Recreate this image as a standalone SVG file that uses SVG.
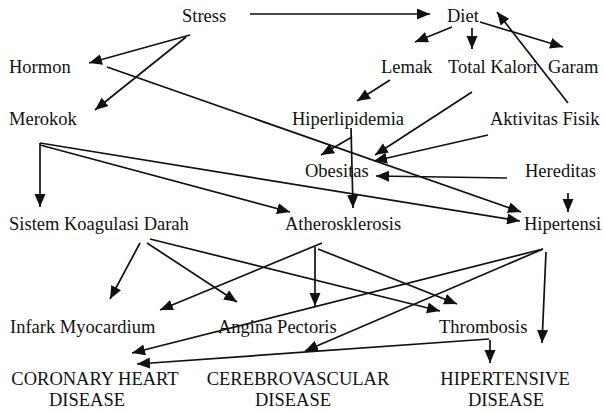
<svg xmlns="http://www.w3.org/2000/svg" width="604" height="411" viewBox="0 0 604 411">
  <style>
    text { font-family: "Liberation Serif", "Times New Roman", serif; font-size: 18.5px; fill: #111; }
    .edge { stroke: #111; stroke-width: 1.7; fill: none; marker-end: url(#head); }
  </style>
  <defs>
    <marker id="head" markerUnits="userSpaceOnUse" markerWidth="14" markerHeight="12" refX="13" refY="5.5" orient="auto">
      <path d="M0,0 L13,5.5 L0,11 z" fill="#111"/>
    </marker>
  </defs>
  <rect width="604" height="411" fill="#fff"/>

  <g id="connectors">
    <path class="edge" d="M250,14 L430,14"/>
    <path class="edge" d="M190,35 L89,63"/>
    <path class="edge" d="M186,37 L95,110"/>
    <path class="edge" d="M107,67 L521,212"/>
    <path class="edge" d="M452,27 L415,42"/>
    <path class="edge" d="M472,28 L472,49"/>
    <path class="edge" d="M480,22 L563,47"/>
    <path class="edge" d="M568,103 L497,12"/>
    <path class="edge" d="M390,80 L357,101"/>
    <path class="edge" d="M472,92 L375,155"/>
    <path class="edge" d="M488,135 L374,161"/>
    <path class="edge" d="M507,178 L376,176"/>
    <path class="edge" d="M568,193 L568,212"/>
    <path class="edge" d="M351,128 L353,208"/>
    <path class="edge" d="M352,137 L321,155"/>
    <path class="edge" d="M40,143 L40,207"/>
    <path class="edge" d="M40,145 L290,212"/>
    <path class="edge" d="M40,143 L520,221"/>
    <path class="edge" d="M140,243 L110,299"/>
    <path class="edge" d="M147,243 L237,302"/>
    <path class="edge" d="M150,239 L440,311"/>
    <path class="edge" d="M322,243 L160,310"/>
    <path class="edge" d="M315,247 L315,306"/>
    <path class="edge" d="M318,249 L457,304"/>
    <path class="edge" d="M543,249 L132,353"/>
    <path class="edge" d="M543,249 L305,351"/>
    <path class="edge" d="M546,252 L542,343"/>
    <path class="edge" d="M490,340 L490,363"/>
    <path class="edge" d="M489,339 L137,364"/>
  </g>

  <g id="stress"><text x="182" y="22">Stress</text></g>
  <g id="diet"><text x="447" y="22">Diet</text></g>
  <g id="hormon"><text x="9" y="73">Hormon</text></g>
  <g id="lemak"><text x="381" y="73">Lemak</text></g>
  <g id="total-kalori"><text x="448" y="73">Total Kalori</text></g>
  <g id="garam"><text x="548" y="73">Garam</text></g>
  <g id="merokok"><text x="9" y="125">Merokok</text></g>
  <g id="hiperlipidemia"><text x="292" y="125">Hiperlipidemia</text></g>
  <g id="aktivitas-fisik"><text x="490" y="125">Aktivitas Fisik</text></g>
  <g id="obesitas"><text x="305" y="177">Obesitas</text></g>
  <g id="hereditas"><text x="525" y="177">Hereditas</text></g>
  <g id="sistem-koagulasi"><text x="9" y="230">Sistem Koagulasi Darah</text></g>
  <g id="atherosklerosis"><text x="285" y="230">Atherosklerosis</text></g>
  <g id="hipertensi"><text x="524" y="230">Hipertensi</text></g>
  <g id="infark"><text x="10" y="333">Infark Myocardium</text></g>
  <g id="angina"><text x="218" y="333">Angina Pectoris</text></g>
  <g id="thrombosis"><text x="439" y="333">Thrombosis</text></g>
  <g id="coronary"><text x="95" y="385" text-anchor="middle">CORONARY HEART</text><text x="87" y="406" text-anchor="middle">DISEASE</text></g>
  <g id="cerebrovascular"><text x="298" y="385" text-anchor="middle">CEREBROVASCULAR</text><text x="293" y="406" text-anchor="middle">DISEASE</text></g>
  <g id="hipertensive"><text x="505" y="385" text-anchor="middle">HIPERTENSIVE</text><text x="506" y="406" text-anchor="middle">DISEASE</text></g>
</svg>
